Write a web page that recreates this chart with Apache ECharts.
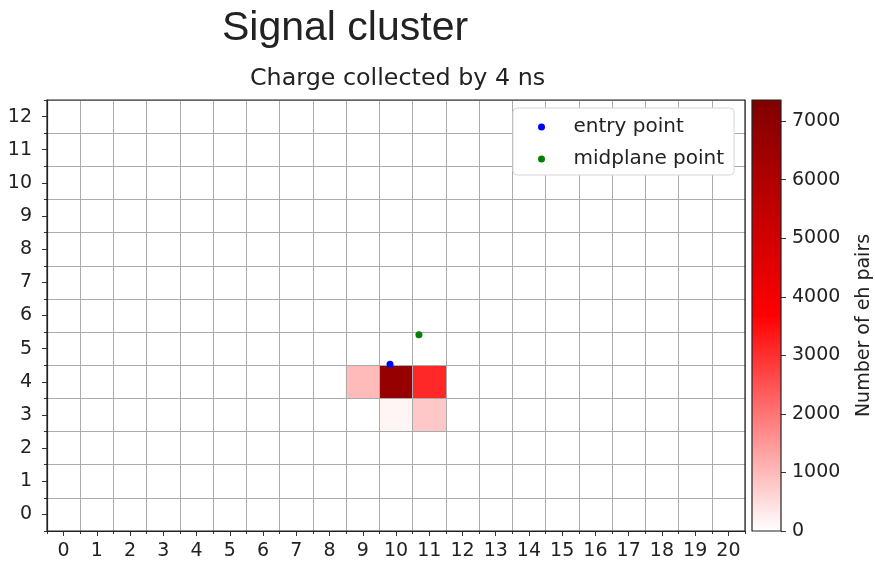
<!DOCTYPE html>
<html><head><meta charset="utf-8">
<script src="https://cdn.jsdelivr.net/npm/echarts@6/dist/echarts.min.js"></script>
<style>html,body{margin:0;padding:0;background:#fff}#c{width:875px;height:569px}</style>
</head><body><div id="c"></div>
<script>
// ---- data ----
const xCategories = ['0','1','2','3','4','5','6','7','8','9','10','11','12','13','14','15','16','17','18','19','20'];
const yCategories = ['0','1','2','3','4','5','6','7','8','9','10','11','12'];
// [x index, y index, number of eh pairs]
const cells = [[9,4,1000],[10,4,6700],[11,4,3100],[10,3,150],[11,3,800]];
const entryPoint = [[9.82,4.53]];
const midplanePoint = [[10.69,5.42]];
const colorbarMax = 7360;
const colorbarValue = [colorbarMax];
const titleText = 'Signal cluster';
const subtitleText = 'Charge collected by 4 ns';
const colorbarLabel = 'Number of eh pairs';
const seriesNames = ['entry point','midplane point'];

// ---- style ----
const cmap = ['#ffffff','#ff0000','#800000'];
const FONT = 'DejaVu Sans';
const TXT = '#222222';
const chart = echarts.init(document.getElementById('c'), null, {renderer:'canvas'});

const catX = (extra) => Object.assign({type:'category', gridIndex:0, data:xCategories, position:'bottom', boundaryGap:true, z:3}, extra);
const catY = (extra) => Object.assign({type:'category', gridIndex:0, data:yCategories, position:'left', boundaryGap:true, z:3}, extra);

chart.setOption({
  animation:false,
  backgroundColor:'#ffffff',
  title:[
    {text:titleText, left:222, top:8, padding:0, textStyle:{fontSize:41, fontWeight:'normal', fontFamily:'Liberation Sans', color:TXT}},
    {text:subtitleText, left:250, top:67, padding:0, textStyle:{fontSize:23.8, fontWeight:'normal', fontFamily:FONT, color:TXT}}
  ],
  grid:[
    {left:47, top:100, width:698, height:431, show:true, borderColor:'#222', borderWidth:1.2, backgroundColor:'transparent', z:10},
    {left:752, top:100, width:29, height:431, show:true, borderColor:'#222', borderWidth:1.2, backgroundColor:'transparent', z:10}
  ],
  xAxis:[
    catX({axisLine:{show:true, onZero:false, lineStyle:{color:'#222', width:1.2}},
          axisTick:{show:true, interval:0, length:3, lineStyle:{color:'#333', width:1}},
          axisLabel:{show:true, interval:0, fontSize:19, fontFamily:FONT, color:TXT, margin:11},
          splitLine:{show:true, interval:0, lineStyle:{color:'#ababab', width:1}}}),
    catX({axisLine:{show:false, onZero:false}, axisTick:{show:true, interval:0, alignWithLabel:true, length:5, lineStyle:{color:'#333', width:1}},
          axisLabel:{show:false}, splitLine:{show:false}}),
    {type:'value', gridIndex:0, min:-0.5, max:20.5, show:false, position:'bottom', axisLine:{onZero:false}},
    {type:'category', gridIndex:1, data:['cb'], show:false, boundaryGap:true, axisLine:{onZero:false}}
  ],
  yAxis:[
    catY({axisLine:{show:true, onZero:false, lineStyle:{color:'#222', width:1.2}},
          axisTick:{show:true, interval:0, length:3, lineStyle:{color:'#333', width:1}},
          axisLabel:{show:true, interval:0, fontSize:19, fontFamily:FONT, color:TXT, margin:15},
          splitLine:{show:true, interval:0, lineStyle:{color:'#ababab', width:1}}}),
    catY({axisLine:{show:false, onZero:false}, axisTick:{show:true, interval:0, alignWithLabel:true, length:5, lineStyle:{color:'#333', width:1}},
          axisLabel:{show:false}, splitLine:{show:false}}),
    {type:'value', gridIndex:0, min:-0.5, max:12.5, show:false, position:'left', axisLine:{onZero:false}},
    {type:'value', gridIndex:1, min:0, max:colorbarMax, interval:1000, position:'right',
     axisLine:{show:false, onZero:false}, axisTick:{show:true, length:5, lineStyle:{color:'#333'}},
     axisLabel:{fontSize:19, fontFamily:FONT, color:TXT, margin:11, showMaxLabel:false, formatter:(v)=>String(v)},
     splitLine:{show:false},
     name:colorbarLabel, nameLocation:'middle', nameRotate:90, nameGap:74,
     nameTextStyle:{fontSize:19, fontFamily:FONT, color:TXT, padding:[0,20,0,0]}}
  ],
  visualMap:{type:'continuous', show:false, min:0, max:colorbarMax, seriesIndex:0, dimension:2, inRange:{color:cmap}},
  legend:{show:true, orient:'vertical', left:513, top:108, data:seriesNames, icon:'circle',
    itemWidth:54, itemHeight:7, itemGap:12, padding:[9,10,6,25], backgroundColor:'#ffffff',
    borderColor:'#d6d6d6', borderWidth:1, borderRadius:4, z:20,
    textStyle:{fontSize:20, fontFamily:FONT, color:TXT, lineHeight:20}},
  series:[
    {type:'heatmap', xAxisIndex:0, yAxisIndex:0, data:cells, z:2, silent:true, emphasis:{disabled:true}},
    {type:'scatter', name:seriesNames[0], xAxisIndex:2, yAxisIndex:2, data:entryPoint, symbolSize:7, itemStyle:{color:'#0000ff', opacity:1}, z:5, silent:true},
    {type:'scatter', name:seriesNames[1], xAxisIndex:2, yAxisIndex:2, data:midplanePoint, symbolSize:7, itemStyle:{color:'#008000', opacity:1}, z:5, silent:true},
    {type:'bar', xAxisIndex:3, yAxisIndex:3, data:colorbarValue, barWidth:'100%', silent:true, z:1,
     itemStyle:{color:new echarts.graphic.LinearGradient(0,1,0,0,[{offset:0,color:cmap[0]},{offset:0.5,color:cmap[1]},{offset:1,color:cmap[2]}])}}
  ]
});
</script></body></html>
